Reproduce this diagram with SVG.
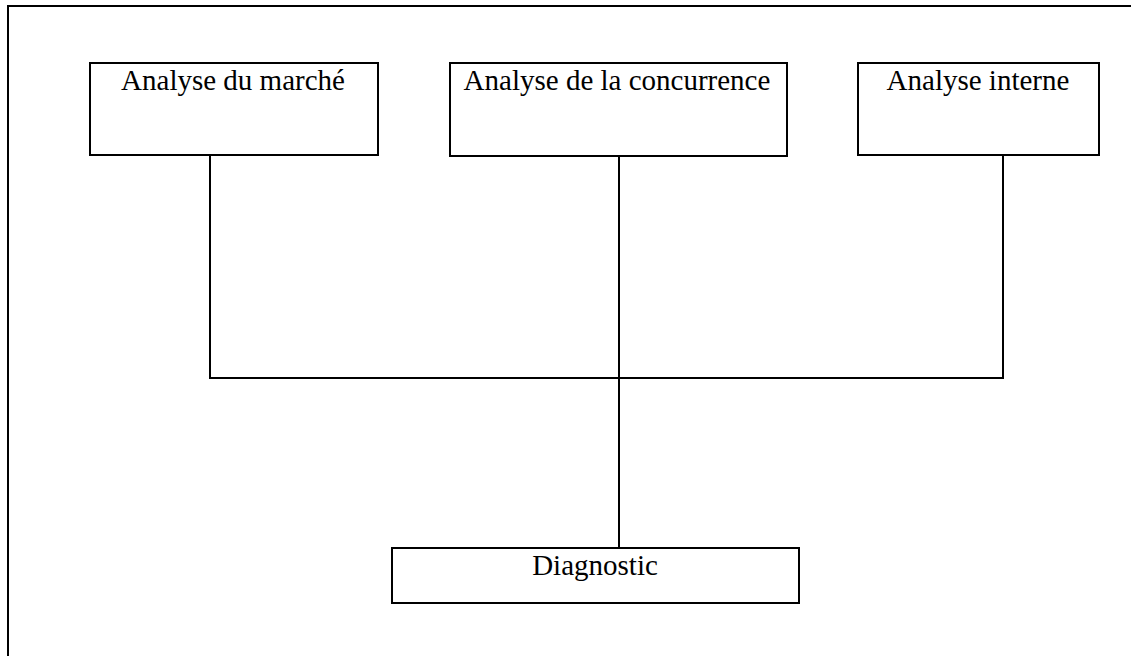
<svg xmlns="http://www.w3.org/2000/svg" width="1131" height="656" viewBox="0 0 1131 656">
<style>
.box{fill:#fff;stroke:#000;stroke-width:2}
.ln{stroke:#000;stroke-width:2;fill:none}
.t{font-family:"Liberation Serif","Times New Roman",serif;font-size:29px;fill:#000;text-anchor:middle}
</style>
<rect width="1131" height="656" fill="#fff"/>
<g id="frame"><path class="ln" d="M8,656 V6 H1131"/></g>
<g id="connectors">
<path class="ln" d="M210,155 V378 H1003 V155"/>
<path class="ln" d="M619,156 V548"/>
</g>
<g id="n1"><rect class="box" x="90" y="63" width="288" height="92"/><text class="t" x="233" y="90">Analyse du marché</text></g>
<g id="n2"><rect class="box" x="450" y="63" width="337" height="93"/><text class="t" x="617" y="90">Analyse de la concurrence</text></g>
<g id="n3"><rect class="box" x="858" y="63" width="241" height="92"/><text class="t" x="978" y="90">Analyse interne</text></g>
<g id="n4"><rect class="box" x="392" y="548" width="407" height="55"/><text class="t" x="595" y="575">Diagnostic</text></g>
</svg>
